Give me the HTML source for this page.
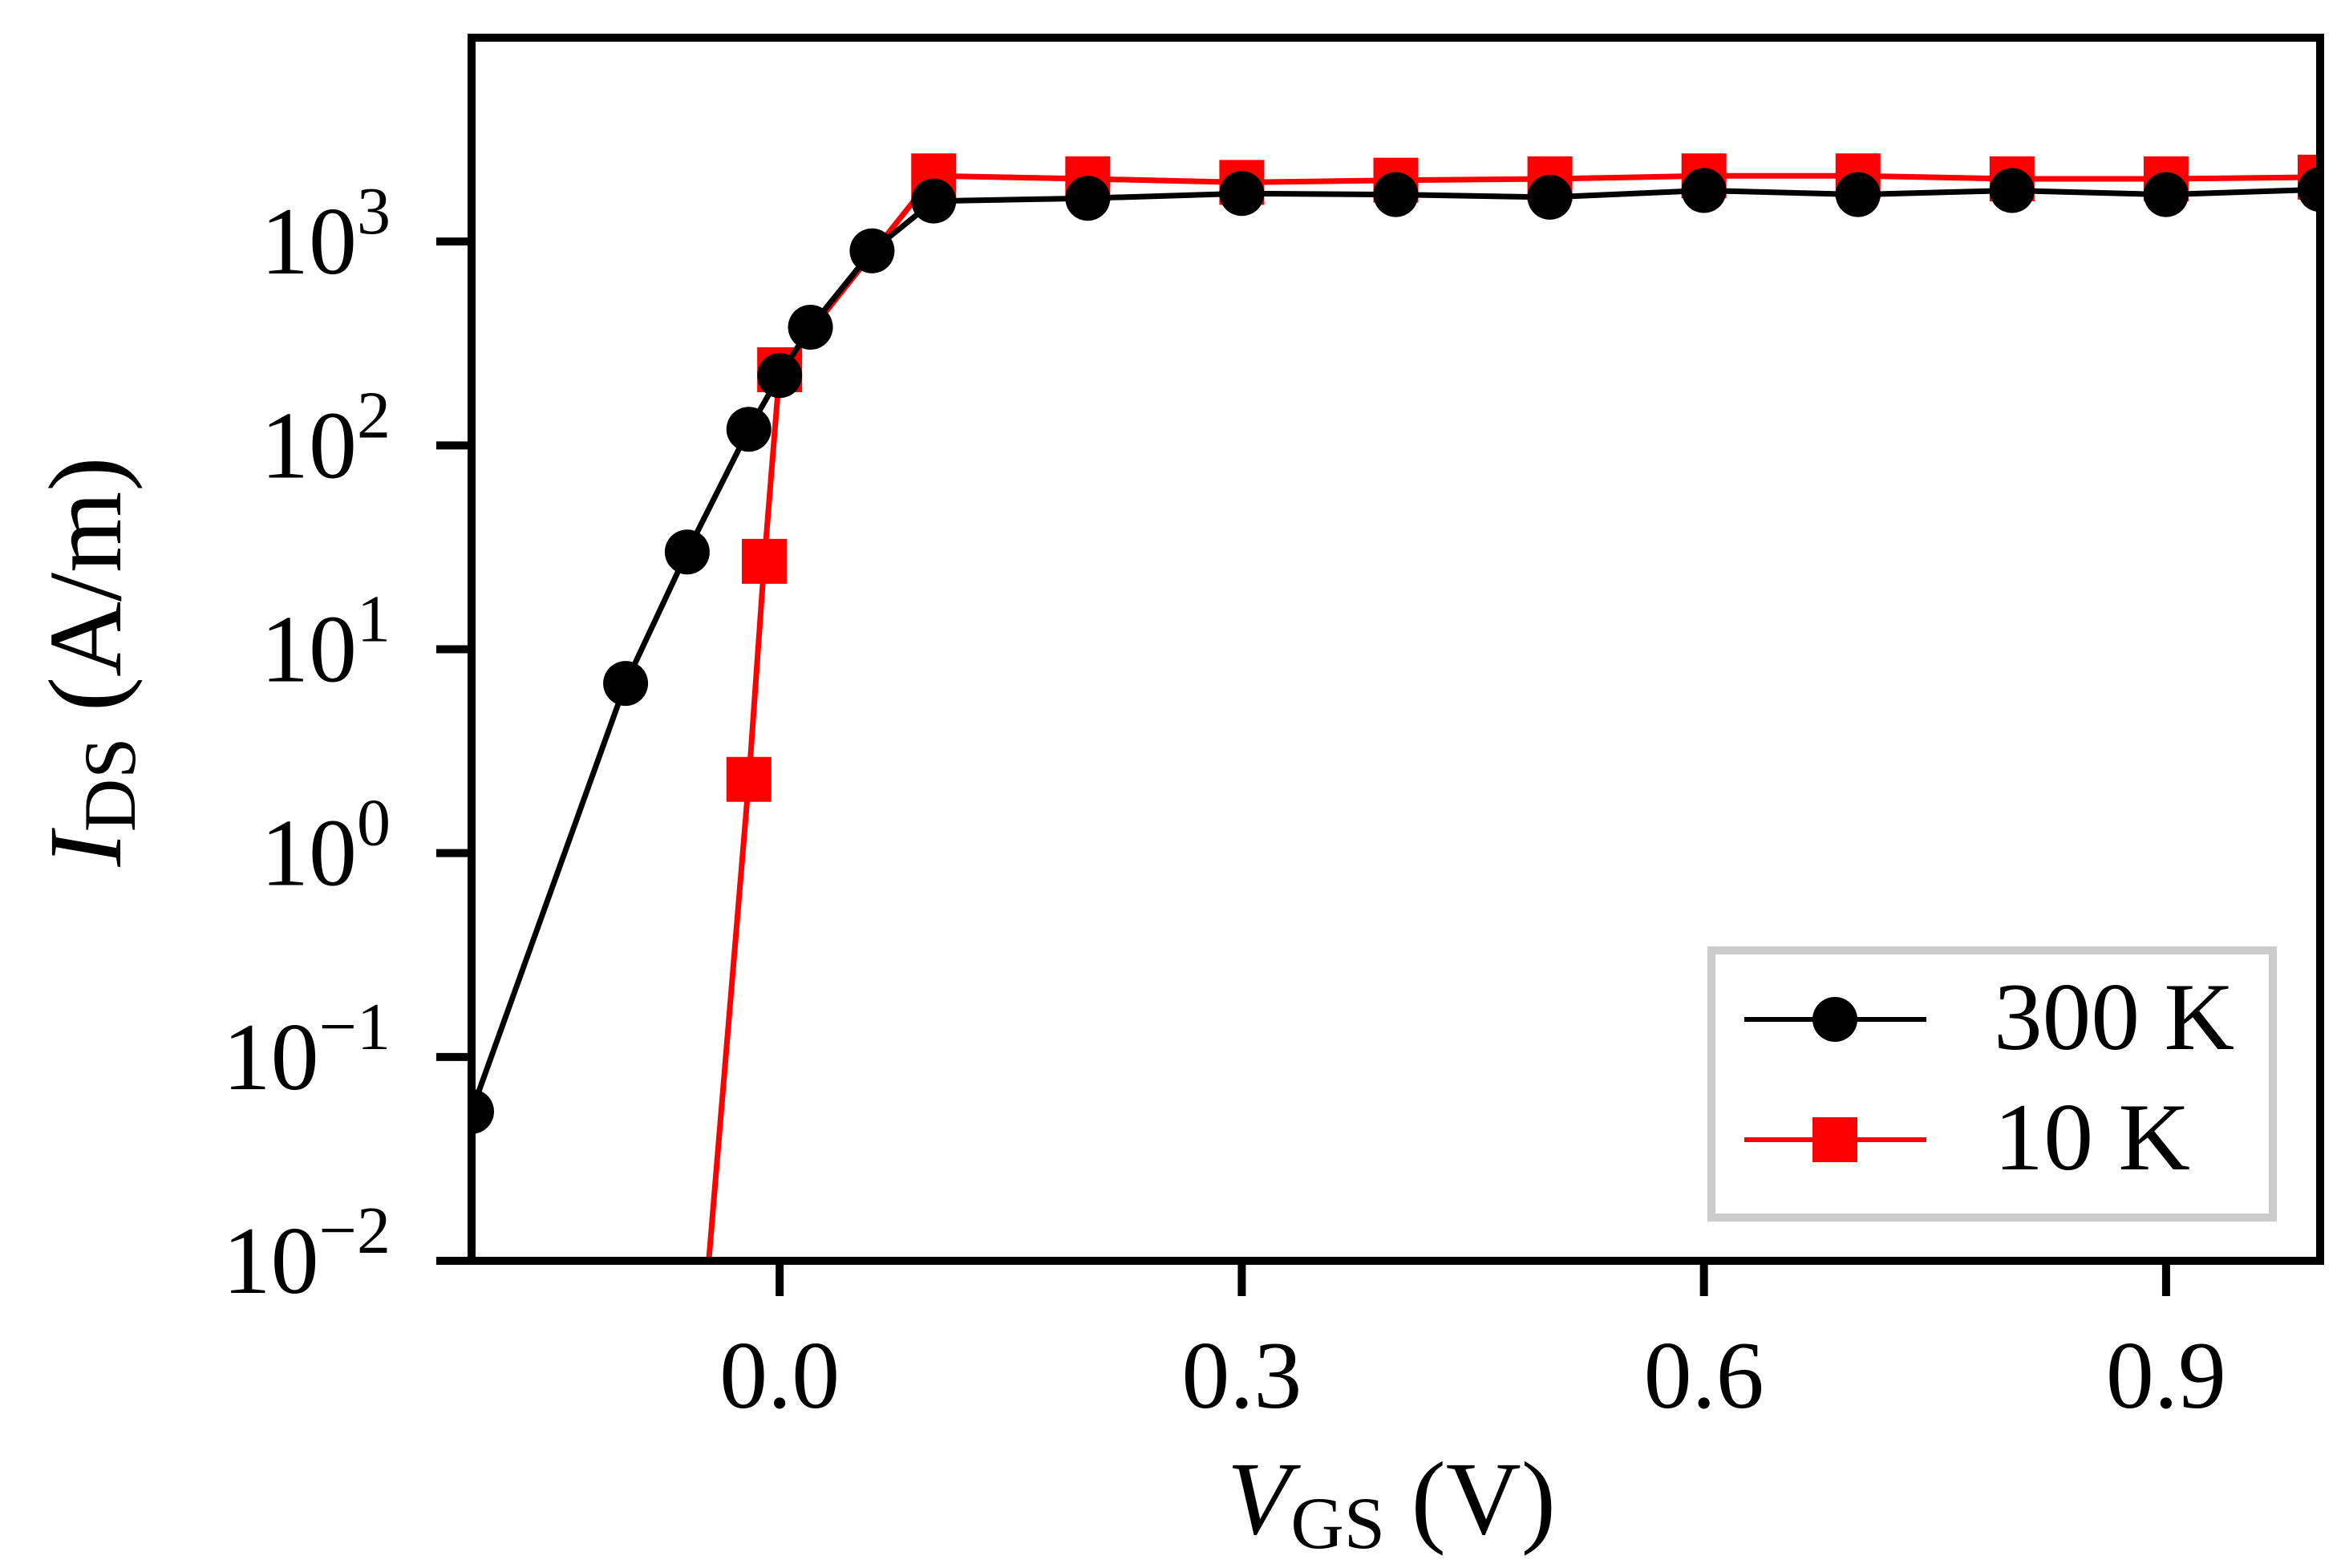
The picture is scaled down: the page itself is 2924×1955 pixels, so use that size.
<!DOCTYPE html>
<html><head><meta charset="utf-8"><style>
html,body{margin:0;padding:0;background:#fff;}
svg{display:block;}
text{font-family:"Liberation Serif",serif;fill:#000;}
</style></head><body>
<svg id="chart" width="2924" height="1955" viewBox="0 0 2924 1955" xmlns="http://www.w3.org/2000/svg">
<defs><clipPath id="plotclip"><rect x="588" y="47" width="2305" height="1525"/></clipPath></defs>
<g id="plot" clip-path="url(#plotclip)"></g>
<g id="axes"></g>
<g id="legend">
  <rect x="2134" y="1185" width="700" height="333" fill="#fff" stroke="#cccccc" stroke-width="10"/>
  <g>
    <line x1="2175" y1="1271" x2="2402" y2="1271" stroke="#000" stroke-width="6"/>
    <circle cx="2288" cy="1271" r="28" fill="#000"/>
    <text x="2486" y="1308" font-size="120" textLength="300" lengthAdjust="spacingAndGlyphs">300 K</text>
  </g>
  <g>
    <line x1="2175" y1="1421" x2="2402" y2="1421" stroke="#f00" stroke-width="6"/>
    <rect x="2260" y="1393" width="56" height="56" fill="#f00"/>
    <text x="2486" y="1458" font-size="120" textLength="245" lengthAdjust="spacingAndGlyphs">10 K</text>
  </g>
</g>
<text x="1735" y="1912" font-size="130" text-anchor="middle"><tspan font-style="italic">V</tspan><tspan font-size="92" dy="18">GS</tspan><tspan dy="-18"> (V)</tspan></text>
<text transform="translate(150,825) rotate(-90)" font-size="130" text-anchor="middle"><tspan font-style="italic">I</tspan><tspan font-size="92" dy="18">DS</tspan><tspan dy="-18"> (A/m)</tspan></text>
</svg>
<script>
const xs300 = [-0.2, -0.1, -0.06, -0.02, 0.0, 0.02, 0.06, 0.1, 0.2, 0.3, 0.4, 0.5, 0.6, 0.7, 0.8, 0.9, 1.0];
const ys300 = [0.054, 6.8, 30, 120, 220, 380, 900, 1580, 1630, 1720, 1700, 1650, 1780, 1700, 1780, 1700, 1800];
const xs10 = [-0.06, -0.02, -0.01, 0.0, 0.1, 0.2, 0.3, 0.4, 0.5, 0.6, 0.7, 0.8, 0.9, 1.0];
const ys10 = [0.00054, 2.3, 27, 235, 2100, 2030, 1950, 2000, 2030, 2100, 2100, 2030, 2030, 2070];
const xTicks = [0.0, 0.3, 0.6, 0.9];
const xTickLabels = ["0.0", "0.3", "0.6", "0.9"];
const yTickExps = [-2, -1, 0, 1, 2, 3];

const L = 588, R = 2893, T = 47, B = 1572;
const xMin = -0.2, xMax = 1.0, yMinE = -2, yMaxE = 4;
function sx(v){ return L + (v - xMin) / (xMax - xMin) * (R - L); }
function sy(v){ return B - (Math.log10(v) - yMinE) / (yMaxE - yMinE) * (B - T); }
const NS = "http://www.w3.org/2000/svg";
function mk(tag, attrs, parent){ const e = document.createElementNS(NS, tag); for (const k in attrs) e.setAttribute(k, attrs[k]); parent.appendChild(e); return e; }

const plot = document.getElementById('plot');
const axes = document.getElementById('axes');

function series(xs, ys, color, kind, name){
  const g = mk('g', {}, plot);
  
  
  const pts = xs.map((x,i)=>sx(x).toFixed(1)+','+sy(ys[i]).toFixed(1)).join(' ');
  const pl = mk('polyline', {points: pts, fill: 'none', stroke: color, 'stroke-width': 7, 'stroke-linejoin': 'round'}, g);
  
  
  xs.forEach((x,i)=>{
    let m;
    if (kind === 'circle') m = mk('circle', {cx: sx(x), cy: sy(ys[i]), r: 28, fill: color}, g);
    else m = mk('rect', {x: sx(x)-28, y: sy(ys[i])-28, width: 56, height: 56, fill: color}, g);
    
    
  });
}
series(xs10, ys10, '#ff0000', 'square', 'series-10k');
series(xs300, ys300, '#000000', 'circle', 'series-300k');

const frame = mk('rect', {x: L, y: T, width: R-L, height: B-T, fill: 'none', stroke: '#000', 'stroke-width': 10}, axes);



xTicks.forEach((v,i)=>{
  const t = mk('line', {x1: sx(v), y1: B, x2: sx(v), y2: B+44, stroke: '#000', 'stroke-width': 10}, axes);
  
  
  const lb = mk('text', {x: sx(v), y: 1755, 'font-size': 120, 'text-anchor': 'middle'}, axes);
  lb.textContent = xTickLabels[i];
  
  
});
yTickExps.forEach(e=>{
  const y = sy(Math.pow(10, e));
  const t = mk('line', {x1: L-44, y1: y, x2: L, y2: y, stroke: '#000', 'stroke-width': 10}, axes);
  
  
  const lb = mk('text', {x: 487, y: y+40, 'font-size': 120, 'text-anchor': 'end'}, axes);
  
  
  const s1 = mk('tspan', {}, lb); s1.textContent = '10';
  const s2 = mk('tspan', {'font-size': 84, dy: -50}, lb); s2.textContent = (e < 0 ? '\u2212' : '') + Math.abs(e);
});
</script>
</body></html>
